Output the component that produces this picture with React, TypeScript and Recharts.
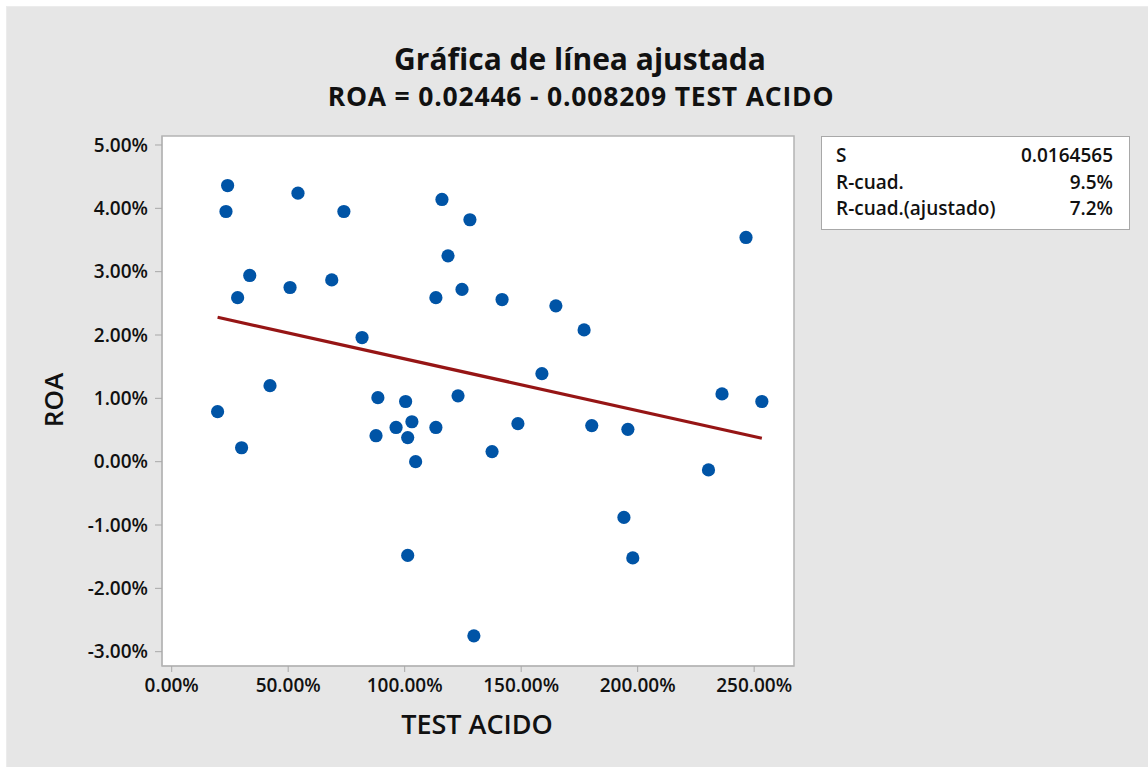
import React from 'react';
import { ComposedChart, Scatter, Line, XAxis, YAxis, ReferenceArea } from 'recharts';

// TEST ACIDO (%) and ROA (%)
const testAcido = [
  24.0, 23.3, 54.2, 73.9, 116.0, 128.0, 118.6, 33.5, 28.3, 50.8, 68.7, 113.4, 124.6, 81.7,
  42.2, 246.5, 141.8, 164.9, 177.0, 158.9, 236.2, 88.5, 100.4, 122.9, 19.7, 96.3, 103.1,
  113.4, 87.7, 101.3, 30.0, 104.7, 101.3, 129.7, 253.3, 148.6, 180.3, 195.8, 137.5, 230.4,
  194.1, 197.9,
];
const roa = [
  4.36, 3.95, 4.24, 3.95, 4.14, 3.82, 3.25, 2.94, 2.59, 2.75, 2.87, 2.59, 2.72, 1.96,
  1.2, 3.54, 2.56, 2.46, 2.08, 1.39, 1.07, 1.01, 0.95, 1.04, 0.79, 0.54, 0.63,
  0.54, 0.41, 0.38, 0.22, 0.0, -1.48, -2.75, 0.95, 0.6, 0.57, 0.51, 0.16, -0.13,
  -0.88, -1.52,
];
// fitted line end points
const fitX = [19.7, 253.3];
const fitY = [2.28, 0.37];

const xTicks = [0, 50, 100, 150, 200, 250];
const yTicks = [-3, -2, -1, 0, 1, 2, 3, 4, 5];
const xDomain = [-4.16, 267.1];
const yDomain = [-3.226, 5.142];

const statLabels = ['S', 'R-cuad.', 'R-cuad.(ajustado)'];
const statValues = ['0.0164565', '9.5%', '7.2%'];

const titleText = 'Gráfica de línea ajustada';
const subtitleText = 'ROA = 0.02446 - 0.008209 TEST ACIDO';
const xLabel = 'TEST ACIDO';
const yLabel = 'ROA';

const points = testAcido.map((x, i) => ({ x, y: roa[i] }));
const fitData = fitX.map((x, i) => ({ x, y: fitY[i] }));

const FONT = "'Open Sans', 'Noto Sans', sans-serif";
const tickStyle = { fill: '#111', fontSize: 19, fontWeight: 600, fontFamily: FONT };
const fmt = (v: number) => `${v.toFixed(2)}%`;

const Dot = (props: any) => <circle cx={props.cx} cy={props.cy} r={6.6} fill="#0054A6" />;

export default function App() {
  return (
    <div style={{ position: 'absolute', left: 0, top: 0, width: 1148, height: 767, background: '#fff', overflow: 'hidden' }}>
      <div style={{ position: 'absolute', left: 6, top: 6, right: 0, bottom: 0, background: '#E6E6E6', borderTop: '1px solid #ECECEC', borderLeft: '1px solid #ECECEC' }} />
      <div style={{ position: 'absolute', left: 0, top: 0 }}>
        <ComposedChart width={1148} height={767} margin={{ top: 136, right: 354, left: 82, bottom: 61 }}>
          <XAxis
            type="number"
            dataKey="x"
            domain={xDomain}
            ticks={xTicks}
            allowDataOverflow
            tickFormatter={fmt}
            height={40}
            tick={tickStyle}
            tickSize={6}
            tickMargin={7}
            stroke="#A8A8A8"
            axisLine={{ stroke: '#B4B4B4' }}
            tickLine={{ stroke: '#A8A8A8' }}
          />
          <YAxis
            type="number"
            dataKey="y"
            domain={yDomain}
            ticks={yTicks}
            allowDataOverflow
            tickFormatter={fmt}
            width={80}
            tick={tickStyle}
            tickSize={7}
            tickMargin={7}
            stroke="#A8A8A8"
            axisLine={{ stroke: '#B4B4B4' }}
            tickLine={{ stroke: '#A8A8A8' }}
          />
          <ReferenceArea
            x1={xDomain[0]}
            x2={xDomain[1]}
            y1={yDomain[0]}
            y2={yDomain[1]}
            fill="#FFFFFF"
            fillOpacity={1}
            stroke="#B4B4B4"
            strokeWidth={1.5}
          />
          <Line
            data={fitData}
            dataKey="y"
            stroke="#961515"
            strokeWidth={3.2}
            dot={false}
            activeDot={false}
            isAnimationActive={false}
            type="linear"
          />
          <Scatter data={points} dataKey="y" shape={<Dot />} isAnimationActive={false} />
        </ComposedChart>
      </div>
      <div style={{ position: 'absolute', left: 821, top: 136, width: 307, height: 92, background: '#fff', border: '1px solid #A8A8A8' }} />
      <svg width={1148} height={767} style={{ position: 'absolute', left: 0, top: 0, pointerEvents: 'none' }}>
        <text x={580} y={70} textAnchor="middle" fontFamily={FONT} fontWeight={700} fontSize={30} fill="#111">{titleText}</text>
        <text x={581} y={106} textAnchor="middle" fontFamily={FONT} fontWeight={700} fontSize={26.5} letterSpacing={0.8} fill="#111">{subtitleText}</text>
        <text x={477} y={734} textAnchor="middle" fontFamily={FONT} fontWeight={600} fontSize={27} fill="#111">{xLabel}</text>
        <text transform="translate(63,400) rotate(-90)" textAnchor="middle" fontFamily={FONT} fontWeight={600} fontSize={26} fill="#111">{yLabel}</text>
        {statLabels.map((s, i) => (
          <text key={s} x={836} y={162 + i * 26.5} fontFamily={FONT} fontWeight={600} fontSize={19} fill="#111">{s}</text>
        ))}
        {statValues.map((s, i) => (
          <text key={s} x={1113} y={162 + i * 26.5} textAnchor="end" fontFamily={FONT} fontWeight={600} fontSize={19} fill="#111">{s}</text>
        ))}
      </svg>
    </div>
  );
}
